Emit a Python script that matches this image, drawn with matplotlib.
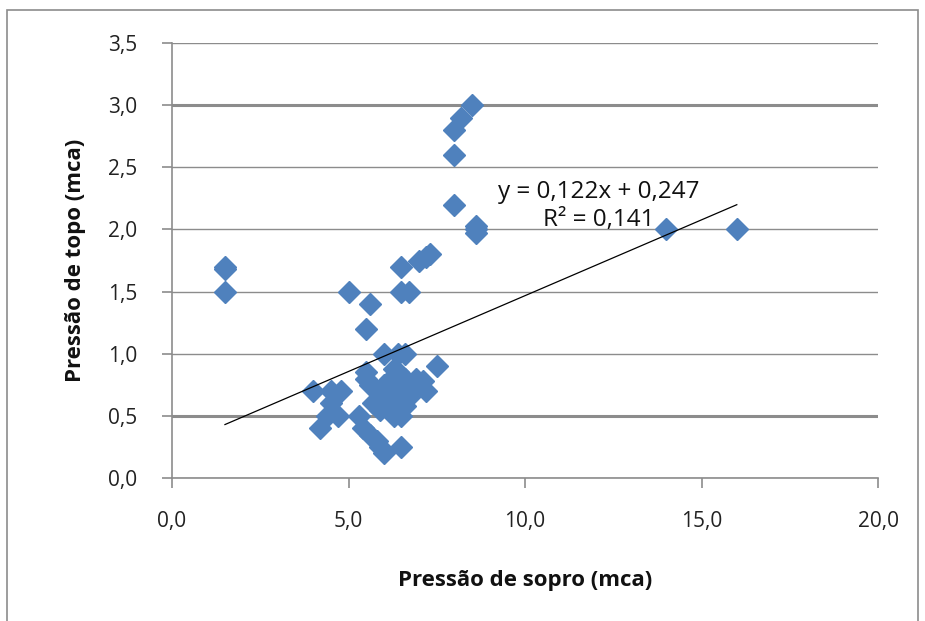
import matplotlib
matplotlib.use("Agg")
import matplotlib.pyplot as plt
from matplotlib.patches import Rectangle
import numpy as np

# scatter data (x = pressao de sopro, y = pressao de topo)
sopro = [1.5, 1.5, 1.5,
         4.0, 4.2, 4.4, 4.5, 4.5, 4.7, 4.8,
         5.0, 5.3, 5.4, 5.5, 5.5, 5.5, 5.6,
         5.6, 5.8, 5.9, 6.0,
         5.7, 5.8, 5.9, 6.0, 6.0, 6.1, 6.2, 6.3, 6.3, 6.4, 6.4,
         6.5, 6.5, 6.5, 6.6, 6.6, 6.5, 5.6, 5.9, 6.2, 6.4, 6.7,
         6.8, 6.9, 7.0, 7.2, 7.1, 6.3, 6.6,
         7.5,
         6.5, 6.5, 6.7,
         7.0, 7.2, 7.3,
         8.0, 8.0, 8.0, 8.2, 8.5,
         8.6, 8.6, 8.6,
         14.0, 16.0]
topo = [1.7, 1.68, 1.5,
        0.7, 0.4, 0.5, 0.6, 0.7, 0.5, 0.7,
        1.5, 0.5, 0.4, 0.8, 0.85, 1.2, 1.4,
        0.35, 0.3, 0.25, 0.2,
        0.6, 0.7, 0.65, 0.75, 1.0, 0.6, 0.8, 0.7, 0.5, 0.85, 1.0,
        0.6, 0.75, 0.5, 0.8, 1.0, 0.25, 0.75, 0.55, 0.65, 0.7, 0.65,
        0.7, 0.8, 0.75, 0.7, 0.78, 0.88, 0.58,
        0.9,
        1.7, 1.5, 1.5,
        1.75, 1.78, 1.8,
        2.2, 2.6, 2.8, 2.9, 3.0,
        2.0, 1.97, 2.03,
        2.0, 2.0]

# trendline as printed on the chart
slope, intercept = 0.122, 0.247
trend_x = [1.5, 16.0]

xticks = [0, 5, 10, 15, 20]
yticks = [0, 0.5, 1.0, 1.5, 2.0, 2.5, 3.0, 3.5]

plt.rcParams['font.family'] = ['Open Sans', 'DejaVu Sans']

fig = plt.figure(figsize=(9.25, 6.21), dpi=100)
W, H = 925, 621
ax = fig.add_axes([172 / W, 1 - 478 / H, (878 - 172) / W, (478 - 43) / H])

# chart area border
fig.patches.append(Rectangle((7 / W, -0.01), (918 - 7) / W, 1 - 10 / H + 0.01,
                             transform=fig.transFigure, fill=False,
                             edgecolor='#8c8c8c', linewidth=1.2))

for yv in yticks:
    lw = 2.2 if yv in (0.5, 3.0) else 1.0
    ax.axhline(yv, color='#8c8c8c', linewidth=lw, zorder=1)

ax.plot(sopro, topo, linestyle='none', marker='D', markersize=11,
        color='#4F81BD', markeredgecolor='#4F81BD', zorder=3)

tx = np.array(trend_x)
ax.plot(tx, slope * tx + intercept, color='black', linewidth=0.9, zorder=4)

ax.text(12.1, 2.19, 'y = 0,122x + 0,247\nR² = 0,141', ha='center', va='center',
        fontsize=17.5, linespacing=1.25, color='#111111', zorder=5)

ax.set_xlim(0, 20)
ax.set_ylim(0, 3.5)
ax.set_xticks(xticks)
ax.set_yticks(yticks)
ax.set_xticklabels([f"{v:.1f}".replace('.', ',') for v in xticks])
ax.set_yticklabels([f"{v:.1f}".replace('.', ',') for v in yticks])

for s in ('top', 'right'):
    ax.spines[s].set_visible(False)
for s in ('left', 'bottom'):
    ax.spines[s].set_color('#8c8c8c')
    ax.spines[s].set_linewidth(1.2)
ax.tick_params(axis='both', colors='#8c8c8c', length=7, width=1.2,
               labelsize=15, labelcolor='#222222')
ax.tick_params(axis='x', pad=17)
ax.tick_params(axis='y', pad=18)

ax.set_xlabel('Pressão de sopro (mca)', fontsize=16, fontweight='bold',
              labelpad=27, color='#111111')
ax.set_ylabel('Pressão de topo (mca)', fontsize=16, fontweight='bold',
              labelpad=16, color='#111111')

fig.savefig('out.png', dpi=100)
